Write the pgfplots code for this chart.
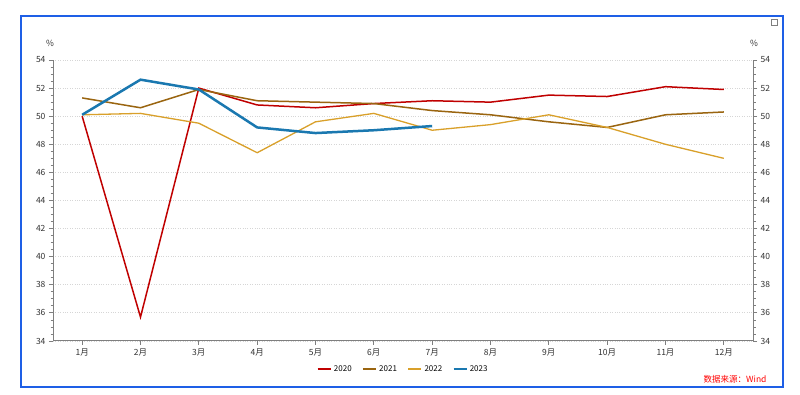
\documentclass[border=0pt]{standalone}
\usepackage{fontspec}
\setmainfont{Noto Sans CJK SC}
\usepackage{pgfplots}
\pgfplotsset{compat=1.18}
\definecolor{c20}{HTML}{C00000}
\definecolor{c21}{HTML}{9A6510}
\definecolor{c22}{HTML}{D9A02A}
\definecolor{c23}{HTML}{1A78B0}
\definecolor{frameblue}{HTML}{1E5FE6}
\definecolor{axgray}{HTML}{7F7F7F}
\pgfplotsset{
  common/.style={
    width=700pt, height=281pt, scale only axis,
    at={(53pt,54pt)}, anchor=south west,
    xmin=0.5, xmax=12.5, ymin=34, ymax=54,
    ytick={34,36,...,54}, minor y tick num=3,
    xtick={1,...,12},
    xticklabels={1月,2月,3月,4月,5月,6月,7月,8月,9月,10月,11月,12月},
    axis line style={axgray, line width=1pt},
    tick style={axgray, line width=0.8pt},
    tick align=outside,
    major tick length=4pt, minor tick length=2.5pt,
    tick label style={font=\fontsize{8.5}{9}\selectfont, text=black!80},
    /pgf/number format/assume math mode=true,
    xtick pos=bottom,
  }
}
\begin{document}
\begin{tikzpicture}[x=1pt,y=1pt]
\useasboundingbox[fill=white] (0,0) rectangle (800,395);
\draw[frameblue, line width=2pt] (21,8) rectangle (783,379);
\begin{axis}[common,
  axis y line*=left, axis x line*=bottom,
  ymajorgrids, major grid style={dotted, black!16, line width=0.8pt},
  legend style={at={(0.5,-0.072)}, anchor=north, legend columns=4, draw=none,
    fill=none, font=\fontsize{8}{9}\selectfont,
    /tikz/every even column/.append style={column sep=8pt}},
  legend image code/.code={\draw[#1, line width=2.5pt] (0pt,0pt) -- (13pt,0pt);},
]
\addplot[c20, line width=1.5pt] coordinates {(1,50.0)(2,35.7)(3,52.0)(4,50.8)(5,50.6)(6,50.9)(7,51.1)(8,51.0)(9,51.5)(10,51.4)(11,52.1)(12,51.9)};
\addlegendentry{2020}
\addplot[c21, line width=1.5pt] coordinates {(1,51.3)(2,50.6)(3,51.9)(4,51.1)(5,51.0)(6,50.9)(7,50.4)(8,50.1)(9,49.6)(10,49.2)(11,50.1)(12,50.3)};
\addlegendentry{2021}
\addplot[c22, line width=1.3pt] coordinates {(1,50.1)(2,50.2)(3,49.5)(4,47.4)(5,49.6)(6,50.2)(7,49.0)(8,49.4)(9,50.1)(10,49.2)(11,48.0)(12,47.0)};
\addlegendentry{2022}
\addplot[c23, line width=2.5pt] coordinates {(1,50.1)(2,52.6)(3,51.9)(4,49.2)(5,48.8)(6,49.0)(7,49.3)};
\addlegendentry{2023}
\end{axis}
\begin{axis}[common,
  axis y line*=right, axis x line=none,
]
\end{axis}
\node[font=\fontsize{8.5}{9}\selectfont, text=black!80] at (50,352) {\%};
\node[font=\fontsize{8.5}{9}\selectfont, text=black!80] at (754,352) {\%};
\node[font=\fontsize{8.5}{9}\selectfont, text=red, anchor=east] at (770,16) {数据来源：Wind};
\draw[axgray, line width=0.6pt] (771,370) rectangle (777,376);
\end{tikzpicture}
\end{document}
